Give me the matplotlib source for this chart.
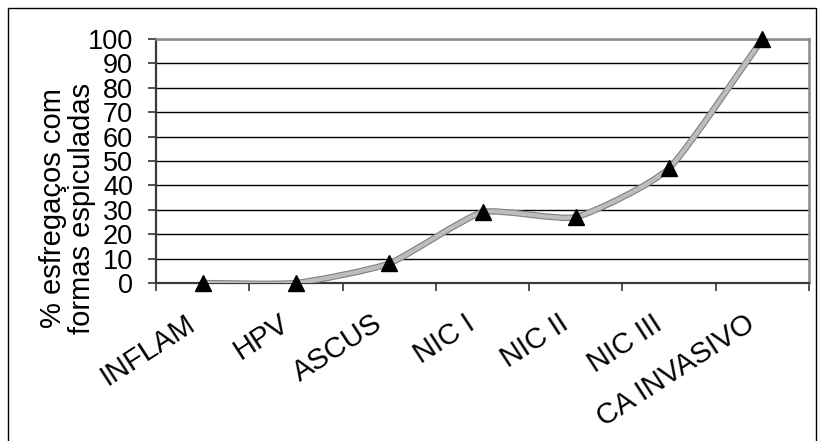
import numpy as np
import matplotlib
matplotlib.use("Agg")
import matplotlib.pyplot as plt
import matplotlib.patheffects as pe
from matplotlib.path import Path
from matplotlib.patches import PathPatch, Rectangle
from matplotlib.transforms import ScaledTranslation

plt.rcParams["font.family"] = ["Liberation Sans", "DejaVu Sans"]

categories = ["INFLAM", "HPV", "ASCUS", "NIC I", "NIC II", "NIC III", "CA INVASIVO"]
percent_spiculated = [0, 0, 8, 29, 27, 47, 100]
y_ticks = list(range(0, 101, 10))

W, H, DPI = 818, 441, 100
fig = plt.figure(figsize=(W / DPI, H / DPI), dpi=DPI)
fig.patch.set_facecolor("white")

# plot area in pixels: x 156..809, y 39..283 (from top)
ax = fig.add_axes([156 / W, (H - 283) / H, (809 - 156) / W, (283 - 39) / H])

x = np.arange(len(categories))
y = np.array(percent_spiculated, dtype=float)


def smooth_path(xs, ys, t=0.09):
    """Cubic bezier through the points, lightly rounded at each vertex."""
    pts = np.column_stack([xs, ys])
    n = len(pts)
    verts = [pts[0]]
    codes = [Path.MOVETO]
    for i in range(n - 1):
        p0 = pts[i - 1] if i > 0 else pts[i]
        p1 = pts[i]
        p2 = pts[i + 1]
        p3 = pts[i + 2] if i + 2 < n else pts[i + 1]
        c1 = p1 + (p2 - p0) * t
        c2 = p2 - (p3 - p1) * t
        verts += [c1, c2, p2]
        codes += [Path.CURVE4] * 3
    return Path(verts, codes)


curve = PathPatch(smooth_path(x, y), facecolor="none", edgecolor="#bdbdbd",
                  linewidth=3.0, capstyle="butt", joinstyle="round", zorder=3,
                  path_effects=[pe.Stroke(linewidth=4.6, foreground="#808080"),
                                pe.Normal()])
ax.add_patch(curve)
ax.plot(x, y, linestyle="none", marker="^", markersize=11,
        color="black", zorder=4, clip_on=False)

ax.set_xlim(-0.5, len(categories) - 0.5)
ax.set_ylim(0, 100)

# horizontal gridlines
ax.set_yticks(y_ticks)
ax.set_yticklabels([str(v) for v in y_ticks], fontsize=19.5)
ax.yaxis.grid(True, color="black", linewidth=1.0)
ax.set_axisbelow(True)
ax.tick_params(axis="y", direction="out", length=6, width=1.2, pad=10.5,
               color="#333333")

# category labels at centres, tick marks at boundaries
ax.set_xticks(x)
ax.set_xticklabels(categories, fontsize=21, rotation=33, ha="right",
                   va="center", rotation_mode="anchor")
ax.set_xticks(np.arange(-0.5, len(categories)), minor=True)
ax.tick_params(axis="x", which="major", length=0, pad=27.5)
ax.tick_params(axis="x", which="minor", direction="out", length=6, width=1.2,
               color="#333333")
shift = ScaledTranslation(-10 / DPI, 0, fig.dpi_scale_trans)
for lbl in ax.get_xticklabels():
    lbl.set_transform(lbl.get_transform() + shift)

for side in ("left", "bottom"):
    ax.spines[side].set_color("#3a3a3a")
    ax.spines[side].set_linewidth(1.6)
for side in ("top", "right"):
    ax.spines[side].set_color("#8a8a8a")
    ax.spines[side].set_linewidth(1.8)

ax.set_ylabel("% esfregaços com\nformas espiculadas", fontsize=21,
              linespacing=1.05)
ax.yaxis.set_label_coords(-0.092, 0.307)

# outer chart border
fig.add_artist(Rectangle((8 / W, -0.1), (816 - 8) / W, 1.1 - 8 / H,
                         transform=fig.transFigure, facecolor="none",
                         edgecolor="black", linewidth=1.0))

fig.savefig("out.png", dpi=DPI, facecolor="white")
